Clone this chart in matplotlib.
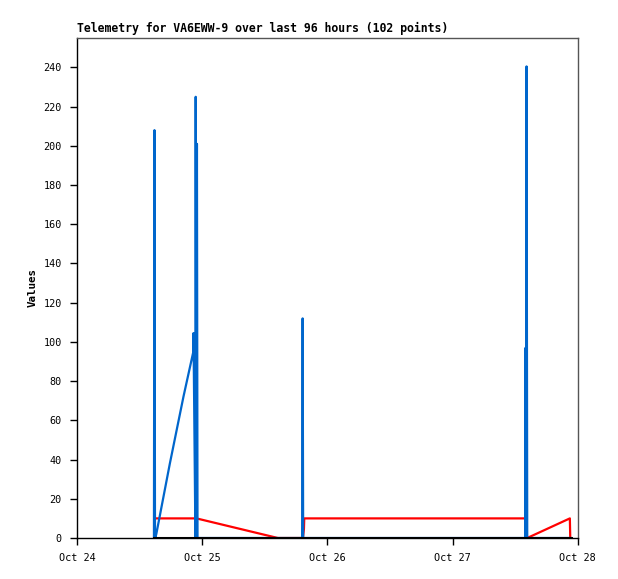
import datetime as dt
import matplotlib
matplotlib.use("Agg")
import matplotlib.pyplot as plt
import matplotlib.dates as mdates

# hours after Oct 24 00:00
blue_hours = [14.75, 14.85, 14.95, 15.02, 15.10, 15.20, 17.8, 20.4, 22.30, 22.33, 22.70, 22.75,
              22.85, 22.99, 23.10, 43.15, 43.25, 43.35, 85.90, 85.98, 86.08, 86.17, 86.30, 94.60]
blue_vals = [0, 208, 0, 4, 1, 2, 38, 72, 95, 104.5, 0, 225,
             0, 201, 0, 0, 112, 0, 0, 97, 0, 240.5, 0, 0]

red_hours = [15.10, 22.90, 38.50, 43.30, 43.50, 43.56, 85.95, 86.30, 94.47, 94.55]
red_vals = [10, 10, 0, 0, 4.6, 10, 10, 0, 10, 0]

black_hours = [14.75, 94.60]
black_vals = [0, 0]

start = dt.datetime(2024, 10, 24)


def to_dates(hours):
    return [start + dt.timedelta(hours=h) for h in hours]


mono = "DejaVu Sans Mono"
fig = plt.figure(figsize=(6.18, 5.79), dpi=100)
ax = fig.add_axes([0.1246, 0.0708, 0.8104, 0.8636])

ax.plot(to_dates(red_hours), red_vals, color="#ff0000", lw=1.6, zorder=2)
ax.plot(to_dates(blue_hours), blue_vals, color="#0066cc", lw=1.6, zorder=3)
ax.plot(to_dates(black_hours), black_vals, color="black", lw=2.2, zorder=4)

ax.set_xlim(start, start + dt.timedelta(days=4))
ax.set_ylim(0, 255)
ax.set_yticks(range(0, 241, 20))
ax.xaxis.set_major_locator(mdates.DayLocator())
ax.xaxis.set_major_formatter(mdates.DateFormatter("%b %d"))

ax.tick_params(axis="both", direction="out", length=5, width=1, labelsize=7.3, pad=6)
for lab in ax.get_xticklabels() + ax.get_yticklabels():
    lab.set_family(mono)

for side in ["top", "right"]:
    ax.spines[side].set_color("#555555")
for side in ["left", "bottom"]:
    ax.spines[side].set_color("black")
for s in ax.spines.values():
    s.set_linewidth(1)

ax.set_ylabel("Values", family=mono, fontweight="bold", fontsize=7.8, labelpad=4)
ax.set_title("Telemetry for VA6EWW-9 over last 96 hours (102 points)", family=mono,
             fontweight="bold", fontsize=8.3, loc="left", pad=4)

fig.savefig("out.png", dpi=100)
